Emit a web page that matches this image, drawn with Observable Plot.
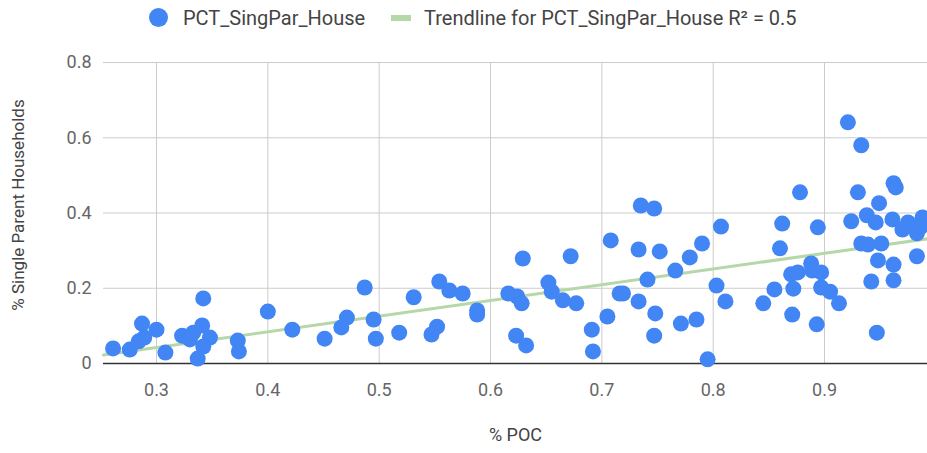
<!DOCTYPE html>
<html>
<head>
<meta charset="utf-8">
<script src="https://cdn.jsdelivr.net/npm/d3@7"></script>
<script src="https://cdn.jsdelivr.net/npm/@observablehq/plot@0.6"></script>
<style>
  html, body { margin: 0; padding: 0; background: #fff; }
  body { width: 927px; height: 453px; overflow: hidden; font-family: Roboto, sans-serif; }
  #legend { position: relative; height: 35px; width: 927px; }
  #legend .item { position: absolute; top: 0; height: 35px; display: flex; align-items: center; color: #444; font-size: 20px; white-space: nowrap; }
  #legend .dot { width: 19px; height: 19px; border-radius: 50%; background: #4285F4; margin-right: 15px; }
  #legend .swatch { width: 20px; height: 6px; background: #b6d7a8; margin-right: 13px; }
</style>
</head>
<body>
<div id="legend"></div>
<div id="chart"></div>
<script>
// % POC (x) and % Single Parent Households (y)
const pctPOC = [
  0.261, 0.276, 0.287, 0.284, 0.289, 0.300, 0.308, 0.323, 0.330, 0.333,
  0.342, 0.341, 0.348, 0.342, 0.337, 0.373, 0.374, 0.400, 0.422, 0.451,
  0.466, 0.471, 0.487, 0.495, 0.497, 0.518, 0.531, 0.547, 0.552, 0.554,
  0.563, 0.575, 0.588, 0.588, 0.616, 0.624, 0.628, 0.623, 0.632, 0.629,
  0.652, 0.655, 0.665, 0.672, 0.677, 0.691, 0.692, 0.705, 0.708, 0.716,
  0.719, 0.733, 0.733, 0.752, 0.741, 0.748, 0.747, 0.766, 0.771, 0.779,
  0.785, 0.790, 0.795, 0.807, 0.803, 0.811, 0.735, 0.747, 0.845, 0.855,
  0.871, 0.860, 0.862, 0.878, 0.870, 0.876, 0.872, 0.888, 0.889, 0.897,
  0.894, 0.893, 0.897, 0.905, 0.913, 0.921, 0.933, 0.930, 0.962, 0.964,
  0.949, 0.924, 0.938, 0.946, 0.961, 0.975, 0.988, 0.970, 0.983, 0.986,
  0.933, 0.939, 0.951, 0.948, 0.962, 0.983, 0.942, 0.962, 0.947
];
const pctSingPar = [
  0.040, 0.037, 0.106, 0.059, 0.069, 0.090, 0.029, 0.074, 0.064, 0.082,
  0.173, 0.101, 0.069, 0.045, 0.013, 0.061, 0.032, 0.138, 0.090, 0.066,
  0.096, 0.122, 0.202, 0.117, 0.066, 0.082, 0.176, 0.077, 0.098, 0.218,
  0.194, 0.186, 0.141, 0.130, 0.186, 0.178, 0.160, 0.074, 0.048, 0.279,
  0.215, 0.191, 0.168, 0.285, 0.160, 0.090, 0.032, 0.125, 0.327, 0.186,
  0.186, 0.165, 0.303, 0.298, 0.223, 0.133, 0.074, 0.247, 0.106, 0.282,
  0.117, 0.319, 0.011, 0.364, 0.207, 0.165, 0.420, 0.412, 0.160, 0.197,
  0.130, 0.306, 0.372, 0.455, 0.237, 0.242, 0.199, 0.266, 0.247, 0.242,
  0.362, 0.104, 0.202, 0.191, 0.160, 0.641, 0.580, 0.455, 0.479, 0.468,
  0.426, 0.378, 0.394, 0.375, 0.383, 0.375, 0.388, 0.356, 0.346, 0.362,
  0.319, 0.316, 0.319, 0.274, 0.263, 0.285, 0.218, 0.221, 0.082
];
const xTicks = [0.3, 0.4, 0.5, 0.6, 0.7, 0.8, 0.9];
const yTicks = [0, 0.2, 0.4, 0.6, 0.8];
const seriesName = "PCT_SingPar_House";
const trendName = "Trendline for PCT_SingPar_House R² = 0.5";
const xTitle = "% POC";
const yTitle = "% Single Parent Households";

const data = pctPOC.map((x, i) => ({x, y: pctSingPar[i]}));

// least-squares trendline computed from the data
const mx = d3.mean(pctPOC), my = d3.mean(pctSingPar);
const slope = d3.sum(data, d => (d.x - mx) * (d.y - my)) / d3.sum(data, d => (d.x - mx) ** 2);
const intercept = my - slope * mx;
const xDomain = [0.2524, 0.9925];
const trend = xDomain.map(x => ({x, y: intercept + slope * x}));

// legend
const legend = document.getElementById("legend");
legend.innerHTML = `
  <div class="item" style="left:149px"><div class="dot"></div><span>${seriesName}</span></div>
  <div class="item" style="left:391px"><div class="swatch"></div><span>${trendName}</span></div>`;

const fmt = d => d === 0 ? "0" : String(d);

const chart = Plot.plot({
  width: 927,
  height: 418,
  marginLeft: 103,
  marginRight: 0,
  marginTop: 27,
  marginBottom: 90,
  style: {fontFamily: "Roboto, sans-serif", fontSize: "17px", color: "#666", background: "#fff", overflow: "hidden"},
  x: {domain: xDomain, label: null},
  y: {domain: [0, 0.8], label: null},
  marks: [
    Plot.gridX(xTicks, {stroke: "#ccc", strokeOpacity: 1}),
    Plot.gridY(yTicks.filter(d => d > 0), {stroke: "#ccc", strokeOpacity: 1}),
    Plot.axisX(xTicks, {tickSize: 0, tickPadding: 20, tickFormat: fmt, fill: "#666", fontSize: 18}),
    Plot.axisY(yTicks, {tickSize: 0, tickPadding: 12, tickFormat: fmt, fill: "#666", fontSize: 18}),
    Plot.line(trend, {x: "x", y: "y", stroke: "#b6d7a8", strokeWidth: 3}),
    Plot.ruleY([0], {stroke: "#333", strokeWidth: 1.5}),
    Plot.dot(data, {x: "x", y: "y", r: 8, fill: "#4285F4", stroke: "none"}),
    Plot.text([xTitle], {frameAnchor: "bottom", dy: 77, fill: "#444", fontSize: 18}),
    Plot.text([yTitle], {frameAnchor: "left", rotate: -90, textAnchor: "middle", dx: -85, dy: -8, fill: "#444", fontSize: 17})
  ]
});
document.getElementById("chart").appendChild(chart);
</script>
</body>
</html>
